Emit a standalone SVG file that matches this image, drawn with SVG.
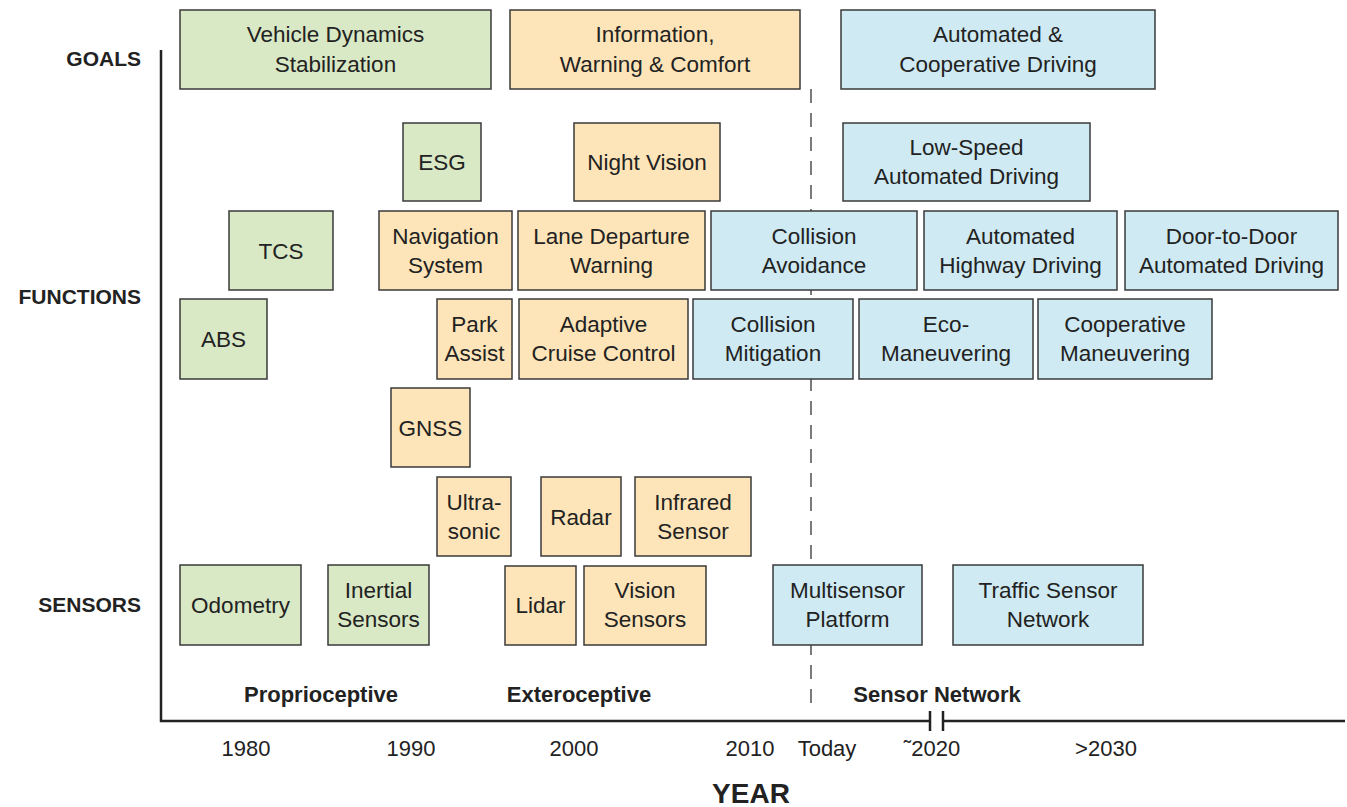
<svg xmlns="http://www.w3.org/2000/svg" width="1347" height="807" viewBox="0 0 1347 807">
<style>
rect{stroke:#3a3a3a;stroke-width:1.5}
.g{fill:#d9e8c5}
.o{fill:#fde5b9}
.b{fill:#cfeaf2}
text{font-family:"Liberation Sans",Arial,sans-serif;fill:#222}
.t{font-size:22.5px;text-anchor:middle}
.h{font-size:21px;font-weight:bold;text-anchor:end}
.s{font-size:22px;font-weight:bold;text-anchor:middle}
.y{font-size:22px;text-anchor:middle}
.ax{stroke:#222;stroke-width:2.5;fill:none}
</style>
<rect width="1347" height="807" fill="#fff" style="stroke:none"/>
<g id="axes">
<path class="ax" d="M161,50 V721 H930 M943,721 H1345 M930,711 V731 M943,711 V731"/>
<line x1="811" y1="89" x2="811" y2="708" stroke="#333" stroke-width="1.3" stroke-dasharray="14 10"/>
</g>
<g id="labels">
<text class="h" x="141" y="66">GOALS</text>
<text class="h" x="141" y="304">FUNCTIONS</text>
<text class="h" x="141" y="612">SENSORS</text>
<text class="s" x="321" y="702">Proprioceptive</text>
<text class="s" x="579" y="702">Exteroceptive</text>
<text class="s" x="937" y="702">Sensor Network</text>
<text class="y" x="246" y="756">1980</text>
<text class="y" x="411" y="756">1990</text>
<text class="y" x="574" y="756">2000</text>
<text class="y" x="750" y="756">2010</text>
<text class="y" x="827" y="756">Today</text>
<text class="y" x="932" y="756">˜2020</text>
<text class="y" x="1106" y="756">&gt;2030</text>
<text x="751" y="803" style="font-size:28px;font-weight:bold;text-anchor:middle">YEAR</text>
</g>
<g id="goal-vds"><rect class="g" x="180" y="10" width="311" height="79"/><text class="t" x="335.5" y="42">Vehicle Dynamics</text><text class="t" x="335.5" y="72">Stabilization</text></g>
<g id="goal-iwc"><rect class="o" x="510" y="10" width="290" height="79"/><text class="t" x="655" y="42">Information,</text><text class="t" x="655" y="72">Warning &amp; Comfort</text></g>
<g id="goal-acd"><rect class="b" x="841" y="10" width="314" height="79"/><text class="t" x="998" y="42">Automated &amp;</text><text class="t" x="998" y="72">Cooperative Driving</text></g>

<g id="esg"><rect class="g" x="403" y="123" width="78" height="78"/><text class="t" x="442" y="170">ESG</text></g>
<g id="nightvision"><rect class="o" x="574" y="123" width="146" height="78"/><text class="t" x="647" y="170">Night Vision</text></g>
<g id="lowspeed"><rect class="b" x="843" y="123" width="247" height="78"/><text class="t" x="966.5" y="155">Low-Speed</text><text class="t" x="966.5" y="184">Automated Driving</text></g>

<g id="tcs"><rect class="g" x="229" y="211" width="104" height="79"/><text class="t" x="281" y="258.5">TCS</text></g>
<g id="nav"><rect class="o" x="379" y="211" width="133" height="79"/><text class="t" x="445.5" y="243.5">Navigation</text><text class="t" x="445.5" y="272.5">System</text></g>
<g id="ldw"><rect class="o" x="518" y="211" width="187" height="79"/><text class="t" x="611.5" y="243.5">Lane Departure</text><text class="t" x="611.5" y="272.5">Warning</text></g>
<g id="ca"><rect class="b" x="711" y="211" width="206" height="79"/><text class="t" x="814" y="243.5">Collision</text><text class="t" x="814" y="272.5">Avoidance</text></g>
<g id="ahd"><rect class="b" x="924" y="211" width="193" height="79"/><text class="t" x="1020.5" y="243.5">Automated</text><text class="t" x="1020.5" y="272.5">Highway Driving</text></g>
<g id="d2d"><rect class="b" x="1125" y="211" width="213" height="79"/><text class="t" x="1231.5" y="243.5">Door-to-Door</text><text class="t" x="1231.5" y="272.5">Automated Driving</text></g>

<g id="abs"><rect class="g" x="180" y="299" width="87" height="80"/><text class="t" x="223.5" y="347">ABS</text></g>
<g id="park"><rect class="o" x="437" y="299" width="75" height="80"/><text class="t" x="474.5" y="332">Park</text><text class="t" x="474.5" y="361">Assist</text></g>
<g id="acc"><rect class="o" x="519" y="299" width="169" height="80"/><text class="t" x="603.5" y="332">Adaptive</text><text class="t" x="603.5" y="361">Cruise Control</text></g>
<g id="cm"><rect class="b" x="693" y="299" width="160" height="80"/><text class="t" x="773" y="332">Collision</text><text class="t" x="773" y="361">Mitigation</text></g>
<g id="eco"><rect class="b" x="859" y="299" width="174" height="80"/><text class="t" x="946" y="332">Eco-</text><text class="t" x="946" y="361">Maneuvering</text></g>
<g id="coop"><rect class="b" x="1038" y="299" width="174" height="80"/><text class="t" x="1125" y="332">Cooperative</text><text class="t" x="1125" y="361">Maneuvering</text></g>

<g id="gnss"><rect class="o" x="391" y="388" width="79" height="79"/><text class="t" x="430.5" y="435.5">GNSS</text></g>
<g id="ultra"><rect class="o" x="437" y="477" width="74" height="79"/><text class="t" x="474" y="510">Ultra-</text><text class="t" x="474" y="539">sonic</text></g>
<g id="radar"><rect class="o" x="541" y="477" width="80" height="79"/><text class="t" x="581" y="525">Radar</text></g>
<g id="infrared"><rect class="o" x="635" y="477" width="116" height="79"/><text class="t" x="693" y="510">Infrared</text><text class="t" x="693" y="539">Sensor</text></g>

<g id="odometry"><rect class="g" x="180" y="565" width="121" height="80"/><text class="t" x="240.5" y="613">Odometry</text></g>
<g id="inertial"><rect class="g" x="328" y="565" width="101" height="80"/><text class="t" x="378.5" y="598">Inertial</text><text class="t" x="378.5" y="627">Sensors</text></g>
<g id="lidar"><rect class="o" x="505" y="566" width="71" height="79"/><text class="t" x="540.5" y="613">Lidar</text></g>
<g id="vision"><rect class="o" x="584" y="566" width="122" height="79"/><text class="t" x="645" y="598">Vision</text><text class="t" x="645" y="627">Sensors</text></g>
<g id="multi"><rect class="b" x="773" y="565" width="149" height="80"/><text class="t" x="847.5" y="598">Multisensor</text><text class="t" x="847.5" y="627">Platform</text></g>
<g id="traffic"><rect class="b" x="953" y="565" width="190" height="80"/><text class="t" x="1048" y="598">Traffic Sensor</text><text class="t" x="1048" y="627">Network</text></g>
</svg>
